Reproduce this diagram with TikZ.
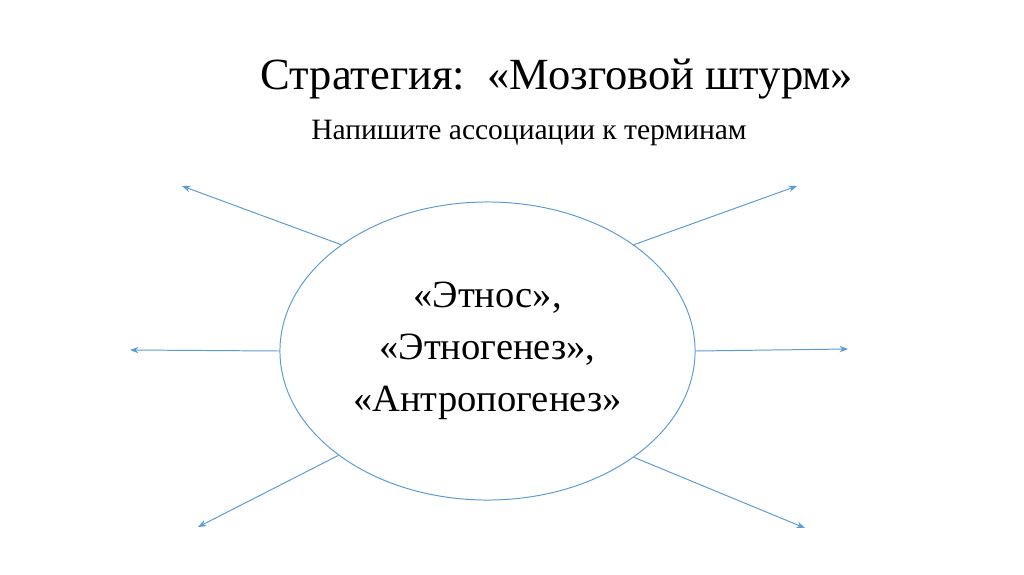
\documentclass[tikz,border=0pt]{standalone}
\usepackage{fontspec}
\setmainfont{Liberation Serif}
\usetikzlibrary{shapes.geometric,arrows.meta}
\definecolor{mapblue}{RGB}{91,155,213}

\begin{document}
\begin{tikzpicture}
[
  x=0.025cm, y=-0.025cm,
  ray/.style={draw=mapblue, line width=0.7pt, -{Stealth[length=6pt,width=4.5pt]}},
  hub/.style={draw=mapblue, line width=0.7pt, ellipse, inner sep=0pt,
    minimum width=10.375cm, minimum height=7.45cm, align=center,
    font=\fontsize{27.4pt}{37pt}\selectfont}
]
  \useasboundingbox (0,0) rectangle (1024,574);

  \node[anchor=base, font=\fontsize{31.7pt}{36pt}\selectfont] (title) at (557,89)
    {Стратегия:\ \ «Мозговой штурм»};
  \node[anchor=base, font=\fontsize{21pt}{24pt}\selectfont] (task) at (529,139)
    {Напишите ассоциации к терминам};

  \node[hub] (terms) at (487.5,351)
    {«Этнос»,\\«Этногенез»,\\«Антропогенез»};

  \coordinate (ul) at (182,186);
  \coordinate (ur) at (797,186);
  \coordinate (l)  at (130,350);
  \coordinate (r)  at (848,349);
  \coordinate (ll) at (198,527);
  \coordinate (lr) at (805,528);

  \draw[ray] (terms.144.3) -- (ul);
  \draw[ray] (terms.36.2)  -- (ur);
  \draw[ray] (terms.180)   -- (l);
  \draw[ray] (terms.0)     -- (r);
  \draw[ray] (terms.215.7) -- (ll);
  \draw[ray] (terms.324.3) -- (lr);
\end{tikzpicture}
\end{document}
